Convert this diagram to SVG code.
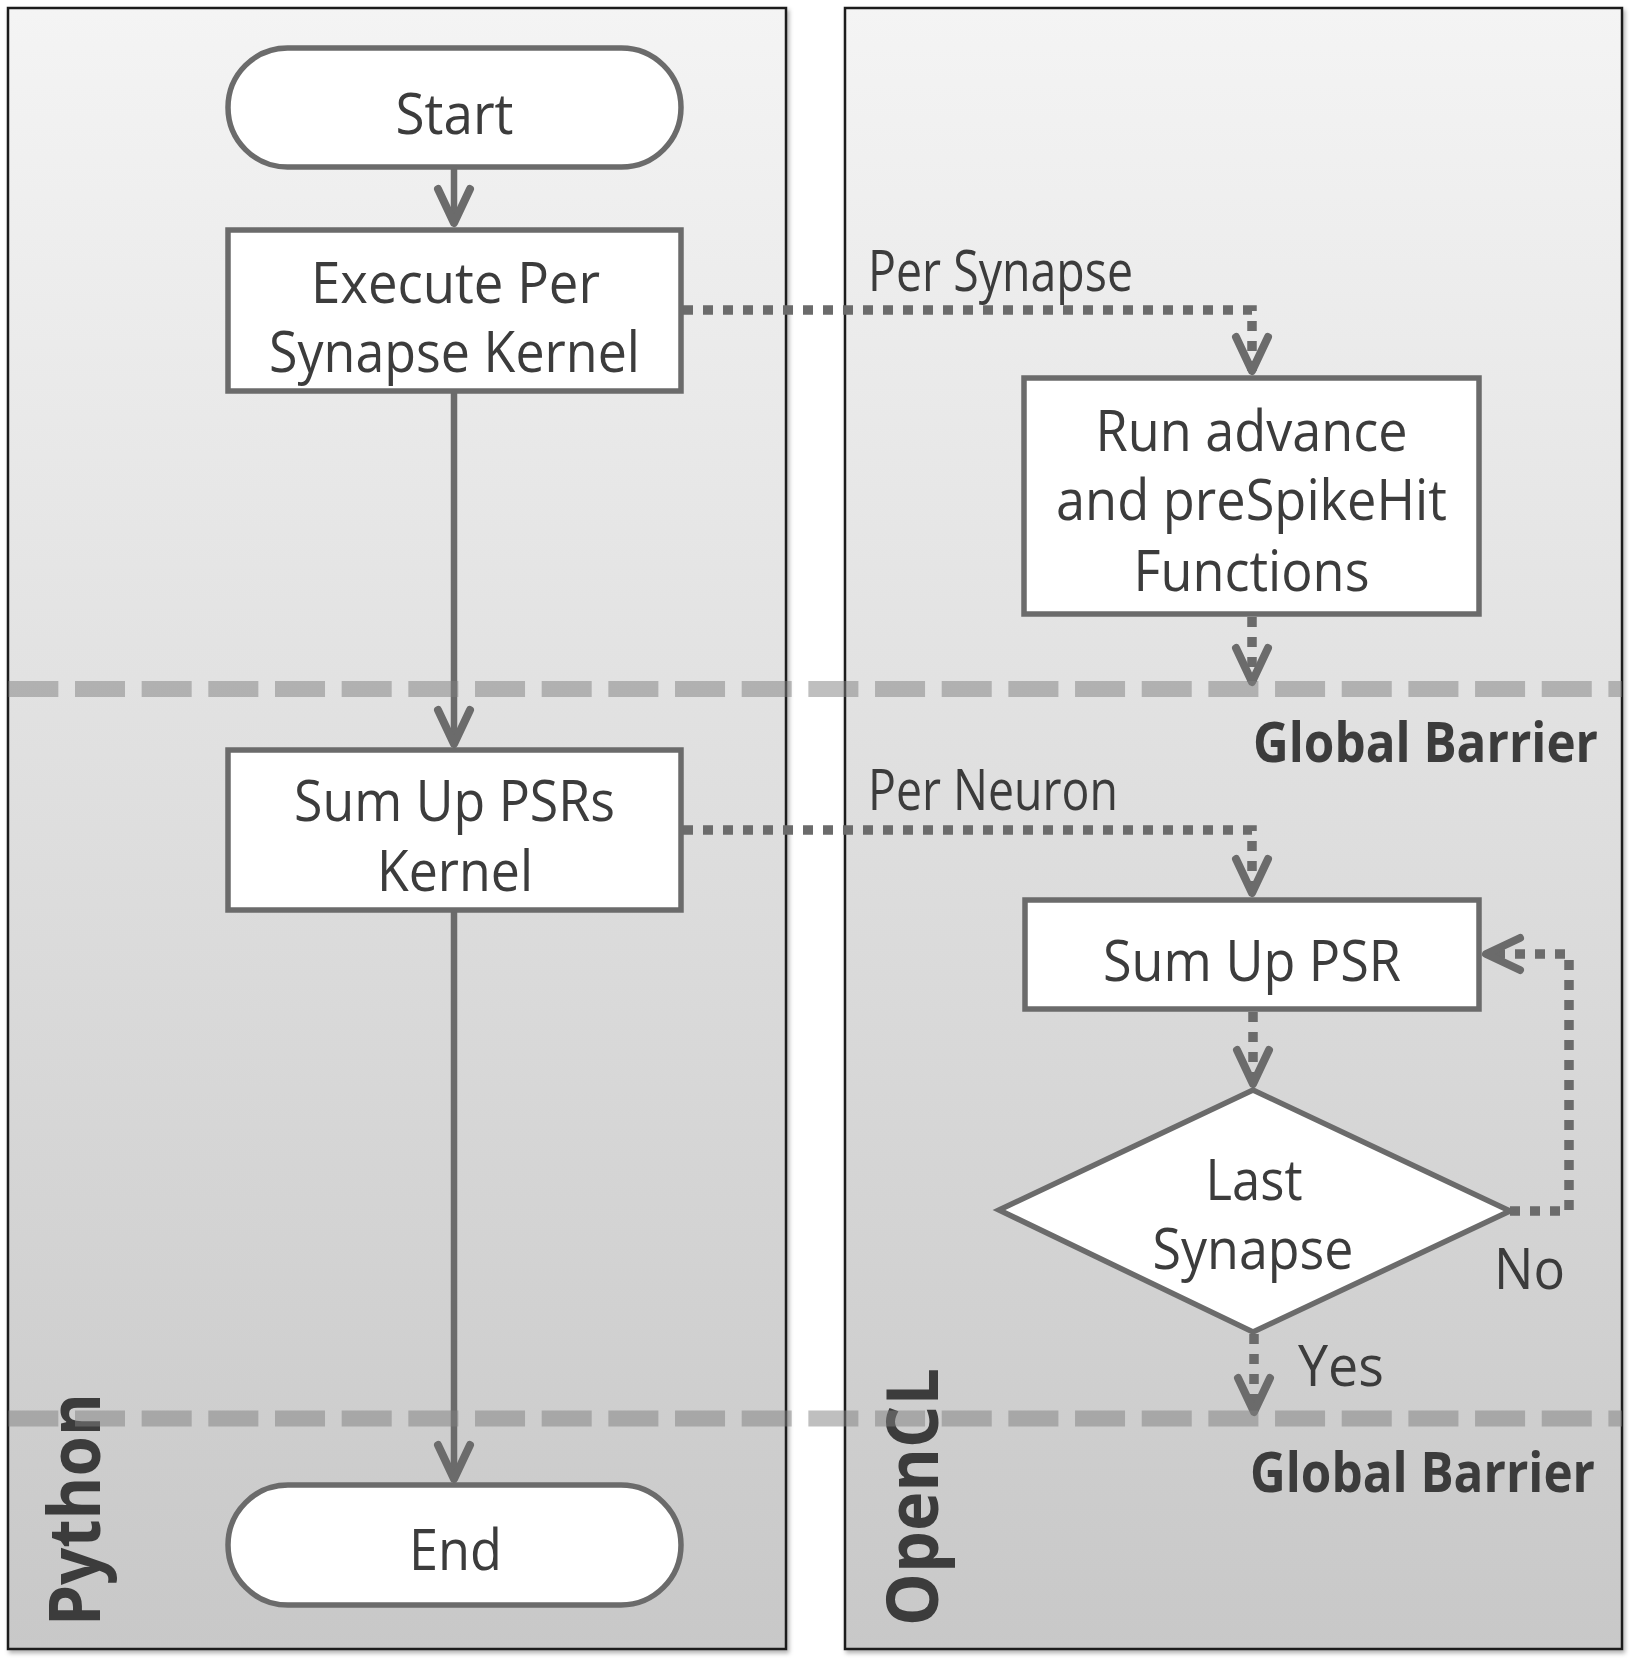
<svg xmlns="http://www.w3.org/2000/svg" width="1632" height="1660" viewBox="0 0 1632 1660">
<defs>
  <linearGradient id="panelGrad" x1="0" y1="0" x2="0" y2="1">
    <stop offset="0" stop-color="#f4f4f4"/>
    <stop offset="1" stop-color="#c8c8c8"/>
  </linearGradient>
  <filter id="shadow" x="-5%" y="-5%" width="110%" height="110%">
    <feDropShadow dx="2" dy="3" stdDeviation="2" flood-color="#000" flood-opacity="0.3"/>
  </filter>
  <marker id="arrow" markerUnits="userSpaceOnUse" markerWidth="60" markerHeight="60" viewBox="-50 -30 60 60" refX="0" refY="0" orient="auto" overflow="visible">
    <path d="M-34,-16 L0,0 L-34,16" fill="none" stroke="#6b6b6b" stroke-width="8" stroke-linecap="round" stroke-linejoin="round"/>
  </marker>
  <style>
    .lane { fill: url(#panelGrad); stroke: #1e1e1e; stroke-width: 2.5; filter: url(#shadow); }
    .node { fill: #ffffff; stroke: #6b6b6b; stroke-width: 5.5; }
    .t { font-family: "Open Sans", "Liberation Sans", sans-serif; font-size: 56px; fill: #3c3c3c; text-anchor: middle; }
    .tl { text-anchor: start; }
    .b { font-weight: bold; }
    .lane-label { font-size: 72px; text-anchor: start; }
    .solid { fill: none; stroke: #6b6b6b; stroke-width: 6.5; marker-end: url(#arrow); }
    .dot { fill: none; stroke: #6b6b6b; stroke-width: 9.5; stroke-dasharray: 10 10; marker-end: url(#arrow); }
    .barrier { stroke: #7f7f7f; stroke-opacity: 0.5; stroke-width: 16; stroke-dasharray: 50 16.67; }
  </style>
</defs>

<rect width="1632" height="1660" fill="#ffffff"/>

<g id="lane-python">
  <rect class="lane" x="8" y="8" width="778" height="1641"/>
  <text class="t b lane-label" transform="translate(100,1626) rotate(-90)" textLength="233" lengthAdjust="spacingAndGlyphs">Python</text>
</g>
<g id="lane-opencl">
  <rect class="lane" x="845" y="8" width="777" height="1641"/>
  <text class="t b lane-label" transform="translate(938,1626) rotate(-90)" textLength="258" lengthAdjust="spacingAndGlyphs">OpenCL</text>
</g>

<g id="connectors">
  <path class="solid" d="M454,167 V223"/>
  <path class="solid" d="M454,392 V744"/>
  <path class="solid" d="M454,911 V1479"/>
  <path class="dot" d="M683,310 H1252 V371"/>
  <path class="dot" d="M1252,617 V682"/>
  <path class="dot" d="M683,830 H1252 V893"/>
  <path class="dot" d="M1253,1012 V1084"/>
  <path class="dot" d="M1510,1211 H1569 V954 H1486"/>
  <path class="dot" d="M1254,1334 V1412"/>
  <text class="t tl" x="868" y="291" textLength="265" lengthAdjust="spacingAndGlyphs">Per Synapse</text>
  <text class="t tl" x="868" y="810" textLength="250" lengthAdjust="spacingAndGlyphs">Per Neuron</text>
  <text class="t tl" x="1494" y="1289" textLength="71" lengthAdjust="spacingAndGlyphs">No</text>
  <text class="t tl" x="1298" y="1386" textLength="86" lengthAdjust="spacingAndGlyphs">Yes</text>
</g>

<g id="node-start">
  <rect class="node" x="228" y="48" width="453" height="119" rx="59.5" ry="59.5"/>
  <text class="t" x="454.5" y="134" textLength="118" lengthAdjust="spacingAndGlyphs">Start</text>
</g>
<g id="node-execute">
  <rect class="node" x="228" y="230" width="453" height="161"/>
  <text class="t" x="455.5" y="303" textLength="289" lengthAdjust="spacingAndGlyphs">Execute Per</text>
  <text class="t" x="454.5" y="372" textLength="371" lengthAdjust="spacingAndGlyphs">Synapse Kernel</text>
</g>
<g id="node-sumkernel">
  <rect class="node" x="228" y="750" width="453" height="160"/>
  <text class="t" x="454.5" y="821" textLength="321" lengthAdjust="spacingAndGlyphs">Sum Up PSRs</text>
  <text class="t" x="455" y="891" textLength="156" lengthAdjust="spacingAndGlyphs">Kernel</text>
</g>
<g id="node-end">
  <rect class="node" x="228" y="1485" width="453" height="120" rx="60" ry="60"/>
  <text class="t" x="455.5" y="1570" textLength="93" lengthAdjust="spacingAndGlyphs">End</text>
</g>
<g id="node-run">
  <rect class="node" x="1024" y="378" width="455" height="236"/>
  <text class="t" x="1251.5" y="451" textLength="312" lengthAdjust="spacingAndGlyphs">Run advance</text>
  <text class="t" x="1251.5" y="520" textLength="391" lengthAdjust="spacingAndGlyphs">and preSpikeHit</text>
  <text class="t" x="1251.5" y="591" textLength="236" lengthAdjust="spacingAndGlyphs">Functions</text>
</g>
<g id="node-sumpsr">
  <rect class="node" x="1025" y="900" width="454" height="109"/>
  <text class="t" x="1252" y="981" textLength="298" lengthAdjust="spacingAndGlyphs">Sum Up PSR</text>
</g>
<g id="node-decision">
  <polygon class="node" points="999,1210 1253,1090 1510,1211 1253,1332" stroke-linejoin="miter"/>
  <text class="t" x="1254" y="1200" textLength="97" lengthAdjust="spacingAndGlyphs">Last</text>
  <text class="t" x="1253" y="1269" textLength="201" lengthAdjust="spacingAndGlyphs">Synapse</text>
</g>

<g id="barriers">
  <line class="barrier" x1="8.33" y1="689" x2="1622" y2="689"/>
  <line class="barrier" x1="8.33" y1="1418.5" x2="1622" y2="1418.5"/>
  <text class="t tl b" x="1253" y="762" textLength="345" lengthAdjust="spacingAndGlyphs">Global Barrier</text>
  <text class="t tl b" x="1250" y="1491.5" textLength="345" lengthAdjust="spacingAndGlyphs">Global Barrier</text>
</g>
</svg>
